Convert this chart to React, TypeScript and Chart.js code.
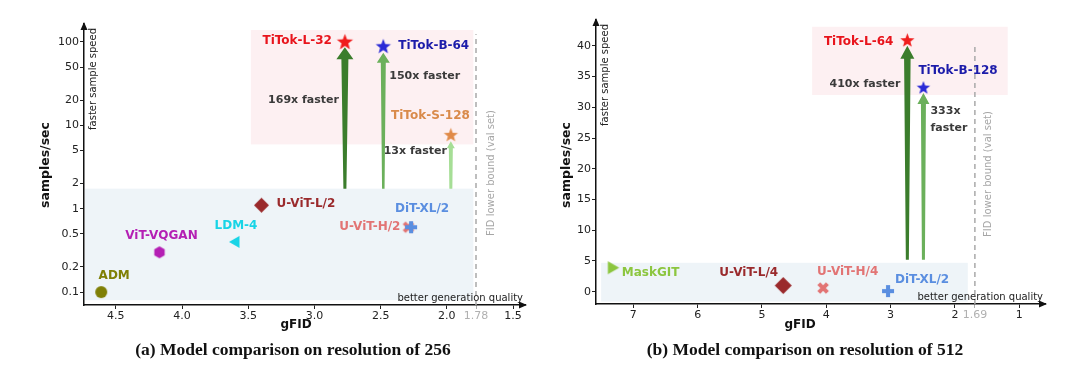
import React, { useEffect, useRef } from 'react';
import { Chart, registerables } from 'chart.js';
Chart.register(...registerables);

// ---------- Data: (a) resolution 256 ----------
const leftModels = ['ADM', 'ViT-VQGAN', 'LDM-4', 'U-ViT-L/2', 'U-ViT-H/2', 'DiT-XL/2', 'TiTok-L-32', 'TiTok-B-64', 'TiTok-S-128'];
const leftGFID = [4.61, 4.17, 3.6, 3.4, 2.29, 2.27, 2.77, 2.48, 1.97];
const leftSpeed = [0.1, 0.3, 0.4, 1.1, 0.6, 0.6, 101.6, 89.8, 7.8];
const leftXTicks = [4.5, 4.0, 3.5, 3.0, 2.5, 2.0, 1.78, 1.5];
const leftYTicks = [0.1, 0.2, 0.5, 1, 2, 5, 10, 20, 50, 100];
const leftSpeedups = ['169x faster', '150x faster', '13x faster'];
const leftFidBound = 1.78;

// ---------- Data: (b) resolution 512 ----------
const rightModels = ['MaskGIT', 'U-ViT-L/4', 'U-ViT-H/4', 'DiT-XL/2', 'TiTok-L-64', 'TiTok-B-128'];
const rightGFID = [7.32, 4.67, 4.05, 3.04, 2.74, 2.49];
const rightSpeed = [3.9, 1.0, 0.6, 0.1, 41.0, 33.3];
const rightXTicks = [7, 6, 5, 4, 3, 2, 1.69, 1];
const rightYTicks = [0, 5, 10, 15, 20, 25, 30, 35, 40];
const rightSpeedups = ['410x faster', '333x\nfaster'];
const rightFidBound = 1.69;

// ---------- Styles ----------
const LABEL_FONT = 'bold 12px "DejaVu Sans"';
const NOTE_FONT = 'bold 11px "DejaVu Sans"';
const TICK_FONT = { family: 'DejaVu Sans', size: 11 };
const RED = '#e8141c';
const NAVY = '#1c1caa';
const ORANGE = '#d98a4a';
const BROWN = '#9a2a2c';
const CORN = '#5a8ee0';
const PINK = '#e27474';
const CYAN = '#18d4e6';
const MAGENTA = '#b41fb4';
const OLIVE = '#7f7f05';
const LIME = '#8cc63f';
const G_DARK = '#3b7d2c';
const G_MED = '#6bb05b';
const G_LIGHT = '#a6de96';

type Shape = 'star' | 'circle' | 'hexagon' | 'triLeft' | 'triRight' | 'diamond' | 'xmark' | 'plus';

function makeMarker(shape: Shape, color: string, size: number): HTMLCanvasElement {
  const dim = Math.ceil(size + 4);
  const c = document.createElement('canvas');
  c.width = dim;
  c.height = dim;
  const g = c.getContext('2d')!;
  const cx = dim / 2, cy = dim / 2, r = size / 2;
  g.fillStyle = color;
  g.strokeStyle = color;
  g.beginPath();
  const poly = (pts: number[][]) => {
    pts.forEach((p, i) => (i === 0 ? g.moveTo(p[0], p[1]) : g.lineTo(p[0], p[1])));
    g.closePath();
    g.fill();
  };
  if (shape === 'star') {
    const pts: number[][] = [];
    for (let i = 0; i < 10; i++) {
      const rr = i % 2 === 0 ? r : r * 0.42;
      const a = -Math.PI / 2 + (i * Math.PI) / 5;
      pts.push([cx + rr * Math.cos(a), cy + 1 + rr * Math.sin(a)]);
    }
    poly(pts);
  } else if (shape === 'circle') {
    g.arc(cx, cy, r, 0, Math.PI * 2);
    g.fill();
  } else if (shape === 'hexagon') {
    const pts: number[][] = [];
    for (let i = 0; i < 6; i++) {
      const a = -Math.PI / 2 + (i * Math.PI) / 3;
      pts.push([cx + r * Math.cos(a), cy + r * Math.sin(a)]);
    }
    poly(pts);
  } else if (shape === 'triLeft') {
    poly([[cx - r, cy], [cx + r * 0.75, cy - r], [cx + r * 0.75, cy + r]]);
  } else if (shape === 'triRight') {
    poly([[cx + r, cy], [cx - r * 0.75, cy - r], [cx - r * 0.75, cy + r]]);
  } else if (shape === 'diamond') {
    poly([[cx, cy - r], [cx + r, cy], [cx, cy + r], [cx - r, cy]]);
  } else if (shape === 'xmark') {
    g.lineWidth = size * 0.34;
    const d = r * 0.72;
    g.moveTo(cx - d, cy - d); g.lineTo(cx + d, cy + d);
    g.moveTo(cx + d, cy - d); g.lineTo(cx - d, cy + d);
    g.stroke();
  } else if (shape === 'plus') {
    const w = size * 0.34;
    g.fillRect(cx - w / 2, cy - r, w, size);
    g.fillRect(cx - r, cy - w / 2, size, w);
  }
  return c;
}

type LabelCfg = { dx: number; dy: number; align: CanvasTextAlign };
type ArrowCfg = { i: number; base: number; tipGap: number; wBase: number; wTop: number; headW: number; headL: number; color: string };
type NoteCfg = { i: number; yVal: number; dx: number; align: CanvasTextAlign };
type RectCfg = { x0: number | null; x1: number; y0: number; y1: number; color: string };

type PanelCfg = {
  models: string[];
  xs: number[];
  ys: number[];
  colors: string[];
  labels: LabelCfg[];
  arrows: ArrowCfg[];
  notes: NoteCfg[];
  noteTexts: string[];
  rects: RectCfg[];
  bound: number;
  boundTop: number;
  boundTextDx: number;
  boundTextY: number;
  yTitleX: number;
  yTitleY: number;
  xTitleY: number;
  xTitleX: number;
};

function extrasPlugin(cfg: PanelCfg) {
  return {
    id: 'extras',
    beforeDatasetsDraw(chart: any) {
      const g: CanvasRenderingContext2D = chart.ctx;
      const xs = chart.scales.x, ys = chart.scales.y, ca = chart.chartArea;
      g.save();
      cfg.rects.forEach((r) => {
        const xa = r.x0 === null ? ca.left + 1 : xs.getPixelForValue(r.x0);
        const xb = xs.getPixelForValue(r.x1);
        const ya = ys.getPixelForValue(r.y1);
        const yb = ys.getPixelForValue(r.y0);
        g.fillStyle = r.color;
        g.fillRect(Math.min(xa, xb), Math.min(ya, yb), Math.abs(xb - xa), Math.abs(yb - ya));
      });
      // FID bound dashed line
      const bx = xs.getPixelForValue(cfg.bound);
      g.strokeStyle = '#a9a9a9';
      g.lineWidth = 1.5;
      g.setLineDash([5, 4]);
      g.beginPath();
      g.moveTo(bx, ca.bottom);
      g.lineTo(bx, ys.getPixelForValue(cfg.boundTop));
      g.stroke();
      g.setLineDash([]);
      // arrows
      cfg.arrows.forEach((a) => {
        const x = xs.getPixelForValue(cfg.xs[a.i]);
        const yb = ys.getPixelForValue(a.base);
        const yt = ys.getPixelForValue(cfg.ys[a.i]) + a.tipGap;
        const yn = yt + a.headL;
        g.fillStyle = a.color;
        g.beginPath();
        g.moveTo(x - a.wBase / 2, yb);
        g.lineTo(x - a.wTop / 2, yn);
        g.lineTo(x - a.headW / 2, yn);
        g.lineTo(x, yt);
        g.lineTo(x + a.headW / 2, yn);
        g.lineTo(x + a.wTop / 2, yn);
        g.lineTo(x + a.wBase / 2, yb);
        g.closePath();
        g.fill();
      });
      g.restore();
    },
    afterDatasetsDraw(chart: any) {
      const g: CanvasRenderingContext2D = chart.ctx;
      const xs = chart.scales.x, ys = chart.scales.y, ca = chart.chartArea;
      g.save();
      // model labels
      g.font = LABEL_FONT;
      g.textBaseline = 'middle';
      cfg.models.forEach((m, i) => {
        const l = cfg.labels[i];
        g.fillStyle = cfg.colors[i];
        g.textAlign = l.align;
        g.fillText(m, xs.getPixelForValue(cfg.xs[i]) + l.dx, ys.getPixelForValue(cfg.ys[i]) + l.dy);
      });
      // speed-up notes
      g.font = NOTE_FONT;
      g.fillStyle = '#3a3a3a';
      cfg.notes.forEach((n, k) => {
        g.textAlign = n.align;
        const x = xs.getPixelForValue(cfg.xs[n.i]) + n.dx;
        const y = ys.getPixelForValue(n.yVal);
        cfg.noteTexts[k].split('\n').forEach((line, j) => g.fillText(line, x, y + j * 17));
      });
      // axis helper texts
      g.font = '10px "DejaVu Sans"';
      g.fillStyle = '#222';
      g.textAlign = 'right';
      g.textBaseline = 'alphabetic';
      g.fillText('better generation quality', ca.right - 2, ca.bottom - 4);
      const rot = (t: string, x: number, y: number, align: CanvasTextAlign) => {
        g.save();
        g.translate(x, y);
        g.rotate(-Math.PI / 2);
        g.textAlign = align;
        g.textBaseline = 'middle';
        g.fillText(t, 0, 0);
        g.restore();
      };
      rot('faster sample speed', ca.left + 9, ca.top + 4, 'right');
      g.fillStyle = '#a6a6a6';
      rot('FID lower bound (val set)', xs.getPixelForValue(cfg.bound) + cfg.boundTextDx, cfg.boundTextY, 'center');
      // titles
      g.fillStyle = '#111';
      g.font = 'bold 12.5px "DejaVu Sans"';
      rot('samples/sec', cfg.yTitleX, cfg.yTitleY, 'center');
      g.textAlign = 'center';
      g.textBaseline = 'middle';
      g.font = 'bold 12px "DejaVu Sans"';
      g.fillText('gFID', cfg.xTitleX, cfg.xTitleY);
      // axis arrow heads
      g.fillStyle = '#111';
      g.beginPath();
      g.moveTo(ca.left, ca.top - 2);
      g.lineTo(ca.left - 3.5, ca.top + 6);
      g.lineTo(ca.left + 3.5, ca.top + 6);
      g.closePath();
      g.fill();
      g.beginPath();
      g.moveTo(ca.right + 2, ca.bottom);
      g.lineTo(ca.right - 6, ca.bottom - 3.5);
      g.lineTo(ca.right - 6, ca.bottom + 3.5);
      g.closePath();
      g.fill();
      g.restore();
    },
  };
}

function makeChart(
  canvas: HTMLCanvasElement,
  cfg: PanelCfg,
  markers: HTMLCanvasElement[],
  xScale: any,
  yScale: any,
  padding: any,
  yWidth: number,
  xHeight: number,
) {
  return new Chart(canvas, {
    type: 'scatter',
    data: {
      datasets: [
        {
          data: cfg.xs.map((x, i) => ({ x, y: cfg.ys[i] })),
          pointStyle: markers as any,
          pointRadius: 6,
        },
      ],
    },
    options: {
      animation: false,
      responsive: false,
      events: [],
      layout: { padding },
      plugins: { legend: { display: false }, tooltip: { enabled: false } },
      scales: {
        x: {
          ...xScale,
          afterFit: (s: any) => {
            s.height = xHeight;
          },
        },
        y: {
          ...yScale,
          afterFit: (s: any) => {
            s.width = yWidth;
          },
        },
      },
    },
    plugins: [extrasPlugin(cfg)],
  });
}

function axisCommon(bound: number | null) {
  const isB = (c: any) => bound !== null && c.tick && Math.abs(c.tick.value - bound) < 1e-6;
  return {
    grid: {
      drawOnChartArea: false,
      drawTicks: true,
      tickLength: 4,
      lineWidth: 1,
      color: (c: any) => (isB(c) ? '#b0b0b0' : '#222'),
    },
    border: { display: true, color: '#111', width: 1.5 },
    ticks: {
      font: TICK_FONT,
      color: (c: any) => (isB(c) ? '#b0b0b0' : '#222'),
      autoSkip: false,
      maxRotation: 0,
      padding: 1,
    },
  };
}

export default function App() {
  const leftRef = useRef<HTMLCanvasElement>(null);
  const rightRef = useRef<HTMLCanvasElement>(null);

  useEffect(() => {
    const leftColors = [OLIVE, MAGENTA, CYAN, BROWN, PINK, CORN, RED, NAVY, ORANGE];
    const leftShapes: [Shape, number][] = [
      ['circle', 12], ['hexagon', 12], ['triLeft', 12], ['diamond', 15], ['xmark', 12], ['plus', 12],
      ['star', 17], ['star', 16], ['star', 15],
    ];
    const leftStarColors = ['#f01d1d', '#2a2ad6', '#e08a48'];
    const leftMarkers = leftShapes.map(([s, sz], i) => makeMarker(s, i >= 6 ? leftStarColors[i - 6] : leftColors[i], sz));

    const leftCfg: PanelCfg = {
      models: leftModels,
      xs: leftGFID,
      ys: leftSpeed,
      colors: leftColors,
      labels: [
        { dx: 13, dy: -16, align: 'center' },
        { dx: 2, dy: -16, align: 'center' },
        { dx: 1, dy: -16, align: 'center' },
        { dx: 15, dy: -1, align: 'left' },
        { dx: -8, dy: 0, align: 'right' },
        { dx: 11, dy: -18, align: 'center' },
        { dx: -13, dy: 0, align: 'right' },
        { dx: 15, dy: 0, align: 'left' },
        { dx: 19, dy: -18, align: 'right' },
      ],
      arrows: [
        { i: 6, base: 1.74, tipGap: 6, wBase: 3, wTop: 7, headW: 17, headL: 12, color: G_DARK },
        { i: 7, base: 1.74, tipGap: 7, wBase: 2.5, wTop: 5, headW: 13, headL: 10, color: G_MED },
        { i: 8, base: 1.74, tipGap: 7, wBase: 3, wTop: 4, headW: 8, headL: 7, color: G_LIGHT },
      ],
      notes: [
        { i: 6, yVal: 20, dx: -6, align: 'right' },
        { i: 7, yVal: 39, dx: 6, align: 'left' },
        { i: 8, yVal: 4.9, dx: -4, align: 'right' },
      ],
      noteTexts: leftSpeedups,
      rects: [
        { x0: 3.48, x1: 1.8, y0: 5.9, y1: 139, color: '#fdf0f2' },
        { x0: null, x1: 1.8, y0: 0.08, y1: 1.74, color: '#eef4f8' },
      ],
      bound: leftFidBound,
      boundTop: 124,
      boundTextDx: 15,
      boundTextY: 173,
      yTitleX: 46,
      yTitleY: 165,
      xTitleX: 296,
      xTitleY: 325,
    };

    const rightColors = [LIME, BROWN, PINK, CORN, RED, NAVY];
    const rightShapes: [Shape, number][] = [
      ['triRight', 13], ['diamond', 17], ['xmark', 12], ['plus', 12], ['star', 15], ['star', 14],
    ];
    const rightStarColors = ['#f01d1d', '#2a2ad6'];
    const rightMarkers = rightShapes.map(([s, sz], i) => makeMarker(s, i >= 4 ? rightStarColors[i - 4] : rightColors[i], sz));

    const rightCfg: PanelCfg = {
      models: rightModels,
      xs: rightGFID,
      ys: rightSpeed,
      colors: rightColors,
      labels: [
        { dx: 9, dy: 5, align: 'left' },
        { dx: -5, dy: -13, align: 'right' },
        { dx: -6, dy: -16, align: 'left' },
        { dx: 7, dy: -11, align: 'left' },
        { dx: -14, dy: 2, align: 'right' },
        { dx: -5, dy: -16, align: 'left' },
      ],
      arrows: [
        { i: 4, base: 5.2, tipGap: 6, wBase: 3, wTop: 6.5, headW: 14, headL: 13, color: G_DARK },
        { i: 5, base: 5.2, tipGap: 6, wBase: 3, wTop: 5, headW: 12, headL: 11, color: G_MED },
      ],
      notes: [
        { i: 4, yVal: 33.8, dx: -7, align: 'right' },
        { i: 5, yVal: 29.3, dx: 7, align: 'left' },
      ],
      noteTexts: rightSpeedups,
      rects: [
        { x0: 4.22, x1: 1.18, y0: 32.0, y1: 43.1, color: '#fdf0f2' },
        { x0: 7.5, x1: 1.8, y0: -1.6, y1: 4.7, color: '#eef4f8' },
      ],
      bound: rightFidBound,
      boundTop: 39.8,
      boundTextDx: 14,
      boundTextY: 174,
      yTitleX: 27,
      yTitleY: 165,
      xTitleX: 260,
      xTitleY: 325,
    };

    const lc = axisCommon(leftFidBound);
    const leftChart = makeChart(
      leftRef.current!,
      leftCfg,
      leftMarkers,
      {
        type: 'linear',
        reverse: true,
        min: 1.41,
        max: 4.74,
        afterBuildTicks: (s: any) => {
          s.ticks = leftXTicks.map((v) => ({ value: v }));
        },
        ...lc,
        ticks: { ...lc.ticks, callback: (v: any) => (Math.abs(v - leftFidBound) < 1e-6 ? String(v) : Number(v).toFixed(1)) },
      },
      {
        type: 'logarithmic',
        min: 0.07,
        max: 164,
        afterBuildTicks: (s: any) => {
          s.ticks = leftYTicks.map((v) => ({ value: v }));
        },
        ...axisCommon(null),
        ticks: { ...axisCommon(null).ticks, callback: (v: any) => String(v) },
      },
      { left: 0, right: 15, top: 24, bottom: 0 },
      84,
      35,
    );

    const rc = axisCommon(rightFidBound);
    const rightChart = makeChart(
      rightRef.current!,
      rightCfg,
      rightMarkers,
      {
        type: 'linear',
        reverse: true,
        min: 0.6,
        max: 7.58,
        afterBuildTicks: (s: any) => {
          s.ticks = rightXTicks.map((v) => ({ value: v }));
        },
        ...rc,
        ticks: { ...rc.ticks, callback: (v: any) => String(v) },
      },
      {
        type: 'linear',
        min: -2,
        max: 44.2,
        afterBuildTicks: (s: any) => {
          s.ticks = rightYTicks.map((v) => ({ value: v }));
        },
        ...axisCommon(null),
        ticks: { ...axisCommon(null).ticks, callback: (v: any) => String(v) },
      },
      { left: 0, right: 35, top: 20, bottom: 0 },
      56,
      36,
    );

    return () => {
      leftChart.destroy();
      rightChart.destroy();
    };
  }, []);

  const caption: React.CSSProperties = {
    position: 'absolute',
    top: 338,
    width: 540,
    textAlign: 'center',
    font: 'bold 17.5px "Liberation Serif", serif',
    color: '#111',
    lineHeight: '22px',
    whiteSpace: 'nowrap',
  };

  return (
    <div style={{ position: 'fixed', left: 0, top: 0, width: 1080, height: 366, background: '#fff', overflow: 'hidden' }}>
      <canvas ref={leftRef} width={540} height={340} style={{ position: 'absolute', left: 0, top: 0, width: 540, height: 340 }} />
      <canvas ref={rightRef} width={540} height={340} style={{ position: 'absolute', left: 540, top: 0, width: 540, height: 340 }} />
      <div style={{ ...caption, left: 293 - 270 }}>(a) Model comparison on resolution of 256</div>
      <div style={{ ...caption, left: 805 - 270 }}>(b) Model comparison on resolution of 512</div>
    </div>
  );
}
